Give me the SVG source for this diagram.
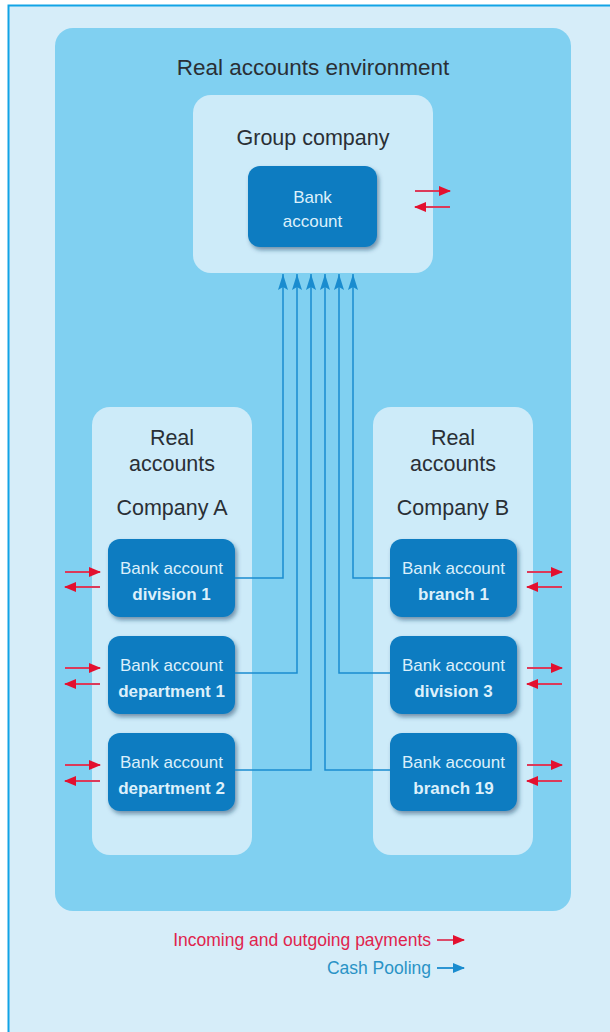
<svg xmlns="http://www.w3.org/2000/svg" width="610" height="1032" viewBox="0 0 610 1032">
<defs>
<style>
.lbl{font-family:"Liberation Sans",Arial,sans-serif;fill:#2a2f35;text-anchor:middle}
.bt{font-family:"Liberation Sans",Arial,sans-serif;fill:#dcf0fb;text-anchor:middle;font-size:17px}
.bt2{font-weight:bold}
.acct{fill:#0b7cc1;filter:url(#sh)}
.pane{fill:#cdebf9}
.pool{fill:none;stroke:#1a8ccf;stroke-width:1.5}
.pay{stroke:#dc3a5a;stroke-width:1.8}
</style>
<filter id="sh" x="-20%" y="-20%" width="150%" height="160%">
<feDropShadow dx="2" dy="3" stdDeviation="2" flood-color="#0d3a5e" flood-opacity="0.5"/>
</filter>
<marker id="ra" viewBox="0 0 12 10" refX="11" refY="5" markerWidth="12" markerHeight="10" markerUnits="userSpaceOnUse" orient="auto">
<path d="M0,0 L12,5 L0,10 Z" fill="#e3102f"/>
</marker>
<marker id="ba" viewBox="0 0 16 10" refX="16" refY="5" markerWidth="16" markerHeight="10" markerUnits="userSpaceOnUse" orient="auto">
<path d="M0,0 L16,5 L0,10 L3,5 Z" fill="#1a8ccf"/>
</marker>
<marker id="ba2" viewBox="0 0 12 10" refX="11" refY="5" markerWidth="12" markerHeight="10" markerUnits="userSpaceOnUse" orient="auto">
<path d="M0,0 L12,5 L0,10 Z" fill="#1a8ccf"/>
</marker>
</defs>
<rect x="0" y="0" width="610" height="1032" fill="#ffffff"/>
<rect x="8.5" y="5.5" width="605" height="1030" fill="#d6edf9" stroke="#12a4e6" stroke-width="2"/>

<g id="environment">
<rect x="55" y="28" width="516" height="883" rx="18" fill="#80d0f1"/>
<text class="lbl" x="313" y="75" font-size="22.5">Real accounts environment</text>
</g>

<g id="group-company">
<rect class="pane" x="193" y="95" width="240" height="178" rx="18"/>
<text class="lbl" x="313" y="145" font-size="21.5">Group company</text>
</g>
<g id="group-bank-account">
<rect class="acct" x="248" y="166" width="129" height="81" rx="12"/>
<text class="bt" x="312.5" y="203">Bank</text>
<text class="bt" x="312.5" y="227">account</text>
</g>

<g id="company-a">
<rect class="pane" x="92" y="407" width="160" height="448" rx="18"/>
<text class="lbl" x="172" y="445" font-size="21.5">Real</text>
<text class="lbl" x="172" y="471" font-size="21.5">accounts</text>
<text class="lbl" x="172" y="515" font-size="21.5">Company A</text>
</g>
<g id="company-b">
<rect class="pane" x="373" y="407" width="160" height="448" rx="18"/>
<text class="lbl" x="453" y="445" font-size="21.5">Real</text>
<text class="lbl" x="453" y="471" font-size="21.5">accounts</text>
<text class="lbl" x="453" y="515" font-size="21.5">Company B</text>
</g>

<g id="a-division-1">
<rect class="acct" x="108" y="539" width="127" height="78" rx="12"/>
<text class="bt" x="171.5" y="574">Bank account</text>
<text class="bt bt2" x="171.5" y="600">division 1</text>
</g>
<g id="a-department-1">
<rect class="acct" x="108" y="636" width="127" height="78" rx="12"/>
<text class="bt" x="171.5" y="671">Bank account</text>
<text class="bt bt2" x="171.5" y="697">department 1</text>
</g>
<g id="a-department-2">
<rect class="acct" x="108" y="733" width="127" height="78" rx="12"/>
<text class="bt" x="171.5" y="768">Bank account</text>
<text class="bt bt2" x="171.5" y="794">department 2</text>
</g>
<g id="b-branch-1">
<rect class="acct" x="390" y="539" width="127" height="78" rx="12"/>
<text class="bt" x="453.5" y="574">Bank account</text>
<text class="bt bt2" x="453.5" y="600">branch 1</text>
</g>
<g id="b-division-3">
<rect class="acct" x="390" y="636" width="127" height="78" rx="12"/>
<text class="bt" x="453.5" y="671">Bank account</text>
<text class="bt bt2" x="453.5" y="697">division 3</text>
</g>
<g id="b-branch-19">
<rect class="acct" x="390" y="733" width="127" height="78" rx="12"/>
<text class="bt" x="453.5" y="768">Bank account</text>
<text class="bt bt2" x="453.5" y="794">branch 19</text>
</g>

<g id="connectors">
<path class="pool" d="M235,578 H283 V274" marker-end="url(#ba)"/>
<path class="pool" d="M235,673 H297 V274" marker-end="url(#ba)"/>
<path class="pool" d="M235,770 H311 V274" marker-end="url(#ba)"/>
<path class="pool" d="M390,770 H325 V274" marker-end="url(#ba)"/>
<path class="pool" d="M390,673 H339 V274" marker-end="url(#ba)"/>
<path class="pool" d="M390,578 H353 V274" marker-end="url(#ba)"/>

<line class="pay" x1="415" y1="191" x2="450" y2="191" marker-end="url(#ra)"/>
<line class="pay" x1="450" y1="207" x2="415" y2="207" marker-end="url(#ra)"/>

<line class="pay" x1="65" y1="572" x2="100" y2="572" marker-end="url(#ra)"/>
<line class="pay" x1="100" y1="587" x2="65" y2="587" marker-end="url(#ra)"/>
<line class="pay" x1="65" y1="668" x2="100" y2="668" marker-end="url(#ra)"/>
<line class="pay" x1="100" y1="684" x2="65" y2="684" marker-end="url(#ra)"/>
<line class="pay" x1="65" y1="765" x2="100" y2="765" marker-end="url(#ra)"/>
<line class="pay" x1="100" y1="781" x2="65" y2="781" marker-end="url(#ra)"/>

<line class="pay" x1="527" y1="572" x2="562" y2="572" marker-end="url(#ra)"/>
<line class="pay" x1="562" y1="587" x2="527" y2="587" marker-end="url(#ra)"/>
<line class="pay" x1="527" y1="668" x2="562" y2="668" marker-end="url(#ra)"/>
<line class="pay" x1="562" y1="684" x2="527" y2="684" marker-end="url(#ra)"/>
<line class="pay" x1="527" y1="765" x2="562" y2="765" marker-end="url(#ra)"/>
<line class="pay" x1="562" y1="781" x2="527" y2="781" marker-end="url(#ra)"/>
</g>

<g id="legend">
<text x="431" y="946" font-family="'Liberation Sans',Arial,sans-serif" font-size="17.5" fill="#e0244d" text-anchor="end">Incoming and outgoing payments</text>
<line class="pay" x1="437" y1="940" x2="464" y2="940" marker-end="url(#ra)"/>
<text x="431" y="974" font-family="'Liberation Sans',Arial,sans-serif" font-size="17.5" fill="#2a93c6" text-anchor="end">Cash Pooling</text>
<line x1="437" y1="968" x2="464" y2="968" stroke="#1a8ccf" stroke-width="1.8" marker-end="url(#ba2)"/>
</g>
</svg>
